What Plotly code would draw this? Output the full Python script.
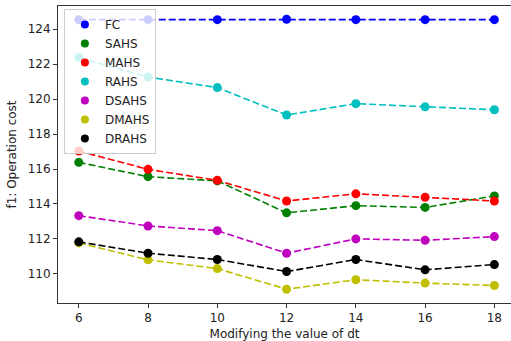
import plotly.graph_objects as go

dt = [6, 8, 10, 12, 14, 16, 18]
series_names = ["FC", "SAHS", "MAHS", "RAHS", "DSAHS", "DMAHS", "DRAHS"]
fc = [124.55, 124.55, 124.55, 124.57, 124.55, 124.55, 124.55]
sahs = [116.38, 115.56, 115.32, 113.49, 113.90, 113.80, 114.46]
mahs = [117.03, 115.98, 115.35, 114.17, 114.58, 114.38, 114.17]
rahs = [122.38, 121.26, 120.66, 119.09, 119.74, 119.56, 119.39]
dsahs = [113.33, 112.74, 112.47, 111.18, 112.00, 111.92, 112.13]
dmahs = [111.77, 110.80, 110.30, 109.12, 109.66, 109.47, 109.33]
drahs = [111.83, 111.18, 110.82, 110.13, 110.82, 110.23, 110.53]
values = [fc, sahs, mahs, rahs, dsahs, dmahs, drahs]
colors = ["#0000ff", "#008000", "#ff0000", "#00bfbf", "#bf00bf", "#bfbf00", "#000000"]

font = "DejaVu Sans"
fig = go.Figure()
for name, ys, c in zip(series_names, values, colors):
    fig.add_trace(go.Scatter(
        x=dt, y=ys, mode="lines+markers", name=name, showlegend=False,
        line=dict(color=c, width=1.6, dash="7px,3px"),
        marker=dict(color=c, size=9),
    ))
for name, c in zip(series_names, colors):
    fig.add_trace(go.Scatter(
        x=[None], y=[None], mode="markers", name=name,
        marker=dict(color=c, size=8),
    ))

axis_common = dict(
    showgrid=False, zeroline=False, showline=True, linecolor="#333333",
    linewidth=1, ticks="outside", ticklen=4, tickcolor="#333333",
    tickfont=dict(family=font, size=12, color="#222222"),
)
fig.update_layout(
    width=511, height=341,
    margin=dict(l=58, r=0, t=6, b=38),
    paper_bgcolor="white", plot_bgcolor="white",
    font=dict(family=font, size=12, color="#222222"),
    xaxis=dict(range=[5.4, 18.48], tickvals=dt, mirror=True,
               title=dict(text="Modifying the value of dt", standoff=6,
                          font=dict(family=font, size=12)),
               **axis_common),
    yaxis=dict(range=[108.33, 125.33], tickvals=[110, 112, 114, 116, 118, 120, 122, 124],
               title=dict(text="f1: Operation cost", standoff=8,
                          font=dict(family=font, size=12)),
               **axis_common),
    legend=dict(x=0.013, y=0.99, xanchor="left", yanchor="top",
                bgcolor="rgba(255,255,255,0.8)", bordercolor="#cccccc", borderwidth=1,
                font=dict(family=font, size=12, color="#222222"),
                tracegroupgap=0, itemwidth=30),
)
fig.write_html("out.html")
